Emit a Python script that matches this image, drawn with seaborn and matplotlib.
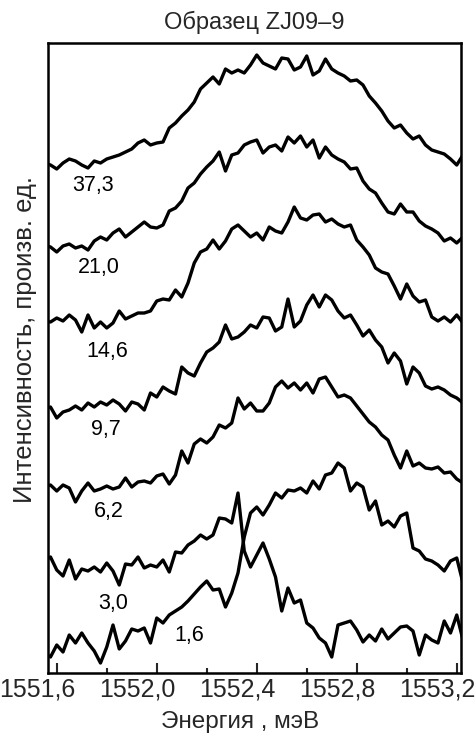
import numpy as np
import pandas as pd
import matplotlib
matplotlib.use("Agg")
import matplotlib.pyplot as plt
import matplotlib.transforms as mtransforms
from matplotlib.ticker import MultipleLocator
import seaborn as sns

# --- Data --------------------------------------------------------------------
# Energy grid, meV (shared by all spectra)
energy = np.linspace(1551.55, 1553.225, 68)

# Stacked PL spectra, intensity in arbitrary units (already vertically offset)
spec_37_3 = [510, 508, 504, 510, 514, 512, 508, 505, 512, 510, 514, 516, 518, 521, 524, 530, 533,
             528, 530, 531, 545, 550, 557, 563, 571, 584, 590, 596, 589, 604, 600, 603, 600, 608,
             618, 610, 607, 604, 615, 614, 603, 606, 617, 598, 602, 614, 604, 600, 597, 592, 593,
             588, 577, 570, 562, 552, 545, 548, 540, 534, 537, 528, 523, 521, 519, 514, 508, 518]
spec_21_0 = [428, 426, 421, 427, 429, 425, 427, 423, 432, 436, 433, 440, 444, 436, 441, 446, 451,
             446, 445, 448, 462, 465, 472, 485, 490, 499, 506, 512, 521, 502, 518, 520, 528, 531,
             533, 520, 526, 528, 522, 536, 530, 537, 526, 533, 515, 526, 518, 514, 511, 504, 505,
             492, 484, 480, 470, 461, 459, 469, 461, 461, 452, 447, 444, 440, 432, 435, 430, 436]
spec_14_6 = [352, 351, 355, 352, 358, 353, 341, 358, 345, 351, 345, 350, 362, 354, 357, 360, 360,
             362, 372, 374, 373, 383, 376, 390, 410, 421, 424, 433, 424, 432, 444, 448, 442, 436,
             440, 433, 446, 442, 440, 451, 466, 455, 453, 458, 459, 451, 454, 449, 446, 448, 433,
             426, 418, 405, 401, 399, 387, 374, 389, 377, 371, 373, 356, 352, 356, 351, 358, 350]
spec_9_7 = [264, 266, 255, 261, 263, 267, 263, 270, 266, 271, 268, 273, 269, 262, 271, 269, 263,
            280, 276, 286, 282, 279, 306, 300, 297, 310, 321, 325, 331, 348, 334, 336, 341, 348,
            345, 356, 355, 342, 346, 374, 346, 352, 368, 378, 366, 378, 373, 362, 355, 358, 348,
            337, 343, 333, 326, 310, 320, 312, 289, 306, 300, 287, 284, 286, 283, 278, 275, 270]
spec_6_2 = [186, 188, 182, 188, 185, 171, 182, 190, 182, 184, 187, 184, 186, 195, 186, 191, 192,
            190, 197, 199, 189, 198, 222, 210, 229, 234, 230, 236, 248, 245, 250, 275, 264, 270,
            262, 262, 270, 286, 292, 285, 290, 283, 290, 280, 294, 296, 286, 276, 278, 275, 267,
            259, 251, 246, 238, 233, 218, 205, 222, 207, 210, 205, 204, 206, 200, 201, 194, 190]
spec_3_0 = [112, 116, 103, 97, 113, 94, 104, 102, 106, 101, 110, 102, 88, 109, 108, 116, 105,
            108, 106, 113, 101, 121, 120, 128, 132, 138, 134, 138, 155, 154, 150, 180, 122, 106,
            118, 130, 114, 96, 62, 85, 70, 73, 50, 45, 35, 30, 16, 48, 50, 52, 43,
            31, 38, 32, 44, 34, 40, 46, 47, 42, 18, 38, 33, 30, 52, 40, 58, 33]
spec_1_6 = [20, 16, 28, 21, 38, 30, 40, 30, 22, 10, 26, 48, 24, 32, 44, 42, 45,
            30, 55, 50, 58, 62, 66, 72, 79, 86, 92, 83, 84, 66, 80, 100, 136, 160,
            166, 158, 168, 180, 175, 183, 182, 185, 180, 192, 184, 198, 200, 210, 205, 182, 190,
            186, 163, 172, 148, 152, 146, 157, 160, 125, 122, 114, 112, 108, 102, 112, 115, 90]

curve_labels = ["37,3", "21,0", "14,6", "9,7", "6,2", "3,0", "1,6"]
spectra = [spec_37_3, spec_21_0, spec_14_6, spec_9_7, spec_6_2, spec_3_0, spec_1_6]

# where each curve label sits (energy, intensity)
label_pos = [(1551.745, 488), (1551.769, 405), (1551.801, 321), (1551.797, 243),
             (1551.809, 161), (1551.825, 70), (1552.129, 38)]

major_ticks = [1551.6, 1552.0, 1552.4, 1552.8, 1553.2]
major_labels = ["1551,6", "1552,0", "1552,4", "1552,8", "1553,2"]

# long table for seaborn
df = pd.concat(
    [pd.DataFrame({"energy": energy, "intensity": s, "curve": lab})
     for s, lab in zip(spectra, curve_labels)],
    ignore_index=True,
)

# --- Plot ---------------------------------------------------------------------
sns.set_style("ticks")
plt.rcParams["font.family"] = ["Liberation Sans", "DejaVu Sans"]

fig = plt.figure(figsize=(4.77, 7.38), dpi=100)
ax = fig.add_axes([48 / 477, 1 - 673 / 738, 413 / 477, 630 / 738])

sns.lineplot(data=df, x="energy", y="intensity", hue="curve", units="curve",
             estimator=None, sort=False,
             palette={lab: "black" for lab in curve_labels},
             linewidth=2.4, legend=False, ax=ax)
for line in ax.get_lines():
    line.set_solid_joinstyle("round")

for lab, (xe, yi) in zip(curve_labels, label_pos):
    ax.text(xe, yi, lab, ha="center", va="center", fontsize=15.5, color="black")

ax.set_xlim(1551.565, 1553.217)
ax.set_ylim(0, 630)

ax.set_xticks(major_ticks)
ax.set_xticklabels(major_labels)
ax.xaxis.set_minor_locator(MultipleLocator(0.2))
ax.tick_params(axis="x", which="major", direction="in", length=7, width=1.5,
               labelsize=18, pad=3, top=False)
ax.tick_params(axis="x", which="minor", direction="in", length=3.5, width=1.5, top=False)
ax.set_yticks([])

# shift the tick labels left, as in the original figure
shift = mtransforms.ScaledTranslation(-19 / 100, 0, fig.dpi_scale_trans)
for lbl in ax.get_xticklabels():
    lbl.set_transform(lbl.get_transform() + shift)

for side in ["left", "right", "top", "bottom"]:
    ax.spines[side].set_visible(True)
    ax.spines[side].set_linewidth(1.8)
    ax.spines[side].set_color("black")

ax.set_xlabel("Энергия , мэВ", fontsize=17.5)
ax.xaxis.set_label_coords((240 - 48) / 413, -0.06)
ax.set_ylabel("Интенсивность, произв. ед.", fontsize=18.5)
ax.yaxis.set_label_coords(-0.027, 0.529)
ax.set_title("Образец ZJ09\u20139", fontsize=17, pad=10)

fig.savefig("out.png", dpi=100)
plt.close(fig)
